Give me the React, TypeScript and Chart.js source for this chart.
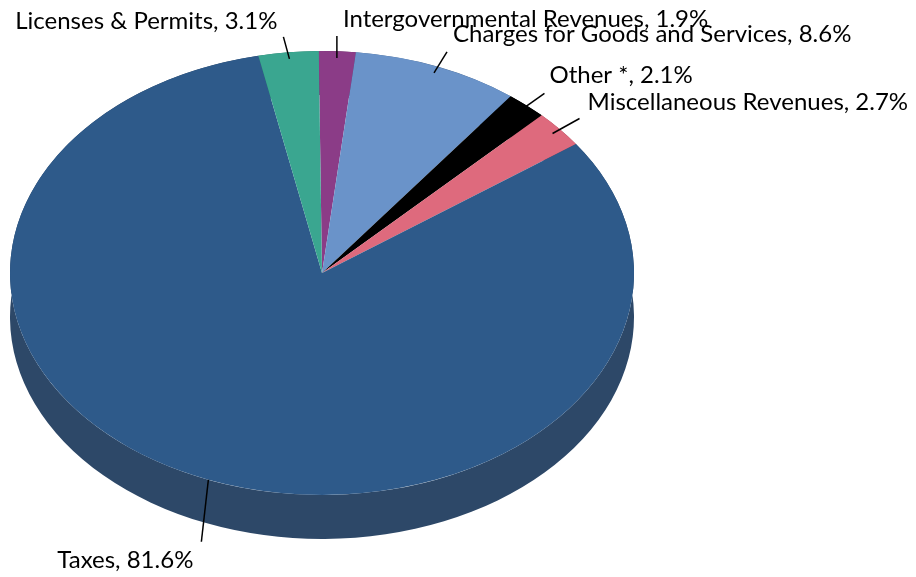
import React, { useEffect, useRef } from "react";
import { Chart, registerables } from "chart.js";

Chart.register(...registerables);

// Data (clockwise from top)
const categories = [
  "Intergovernmental Revenues",
  "Charges for Goods and Services",
  "Other *",
  "Miscellaneous Revenues",
  "Taxes",
  "Licenses & Permits",
];
const shares = [1.9, 8.6, 2.1, 2.7, 81.6, 3.1];
const topColors = ["#8B3C87", "#6A93C9", "#000000", "#DE6A7D", "#2E5A8A", "#3AA690"];
const sideColors = ["#5E2A5C", "#4A6890", "#000000", "#9C4A58", "#2D4868", "#287563"];

// label placement: leader start radius factor, leader end offset from start, text offset from leader end
const labelPlacement = [
  { rf: 0.97, lx: 0, ly: -22, tx: 6, ty: -9, align: "left" },
  { rf: 0.97, lx: 13, ly: -21, tx: 6, ty: -10, align: "left" },
  { rf: 0.97, lx: 24, ly: -17, tx: 5, ty: -10, align: "left" },
  { rf: 0.97, lx: 27, ly: -15, tx: 8, ty: -8, align: "left" },
  { rf: 1.0, lx: -7, ly: 62, tx: -8, ty: 26, align: "right" },
  { rf: 0.97, lx: -6, ly: -22, tx: -6, ty: -8, align: "right" },
];

// ellipse geometry of the 3D view
const VIEW = { cx: 322, cy: 273, rx: 312, ry: 222, depth: 44 };

function viewTransform(chart: any) {
  const meta = chart.getDatasetMeta(0);
  const a = meta.data[0];
  const R = a.outerRadius;
  const sx = VIEW.rx / R;
  const sy = VIEW.ry / R;
  return { sx, sy, tx: VIEW.cx - a.x * sx, ty: VIEW.cy - a.y * sy };
}

const pie3d = {
  id: "pie3d",
  beforeDatasetsDraw(chart: any) {
    const ctx = chart.ctx;
    const t = viewTransform(chart);
    const meta = chart.getDatasetMeta(0);
    const d = VIEW.depth / t.sy;
    ctx.save();
    ctx.translate(t.tx, t.ty);
    ctx.scale(t.sx, t.sy);
    meta.data.forEach((arc: any, i: number) => {
      ctx.beginPath();
      ctx.arc(arc.x, arc.y, arc.outerRadius, arc.startAngle, arc.endAngle);
      ctx.arc(arc.x, arc.y + d, arc.outerRadius, arc.endAngle, arc.startAngle, true);
      ctx.closePath();
      ctx.fillStyle = sideColors[i];
      ctx.fill();
    });
    ctx.restore();
    ctx.save();
    ctx.translate(t.tx, t.ty);
    ctx.scale(t.sx, t.sy);
  },
  afterDatasetsDraw(chart: any) {
    chart.ctx.restore();
  },
  afterDraw(chart: any) {
    const ctx = chart.ctx;
    const t = viewTransform(chart);
    const meta = chart.getDatasetMeta(0);
    ctx.save();
    ctx.font = '24px Lato, "Open Sans", sans-serif';
    ctx.fillStyle = "#000";
    ctx.strokeStyle = "#000";
    ctx.lineWidth = 1.5;
    meta.data.forEach((arc: any, i: number) => {
      const p = labelPlacement[i];
      const mid = (arc.startAngle + arc.endAngle) / 2;
      const r = arc.outerRadius * p.rf;
      const px = (arc.x + Math.cos(mid) * r) * t.sx + t.tx;
      const py = (arc.y + Math.sin(mid) * r) * t.sy + t.ty;
      const ex = px + p.lx;
      const ey = py + p.ly;
      ctx.beginPath();
      ctx.moveTo(px, py);
      ctx.lineTo(ex, ey);
      ctx.stroke();
      ctx.textAlign = p.align;
      ctx.textBaseline = "alphabetic";
      ctx.fillText(`${categories[i]}, ${shares[i].toFixed(1)}%`, ex + p.tx, ey + p.ty);
    });
    ctx.restore();
  },
};

export default function App() {
  const ref = useRef<HTMLCanvasElement>(null);
  useEffect(() => {
    if (!ref.current) return;
    const chart = new Chart(ref.current, {
      type: "pie",
      data: {
        labels: categories,
        datasets: [
          {
            data: shares,
            backgroundColor: topColors,
            borderWidth: 0,
            clip: false as any,
          },
        ],
      },
      options: {
        responsive: false,
        animation: false,
        devicePixelRatio: 1,
        rotation: -0.6,
        layout: { padding: { left: 0, top: 0, right: 916 - 554, bottom: 577 - 554 } },
        plugins: { legend: { display: false }, tooltip: { enabled: false } },
      },
      plugins: [pie3d],
    });
    return () => chart.destroy();
  }, []);
  return (
    <div style={{ position: "fixed", left: 0, top: 0, width: 916, height: 577, background: "#fff" }}>
      <canvas ref={ref} width={916} height={577} />
    </div>
  );
}
